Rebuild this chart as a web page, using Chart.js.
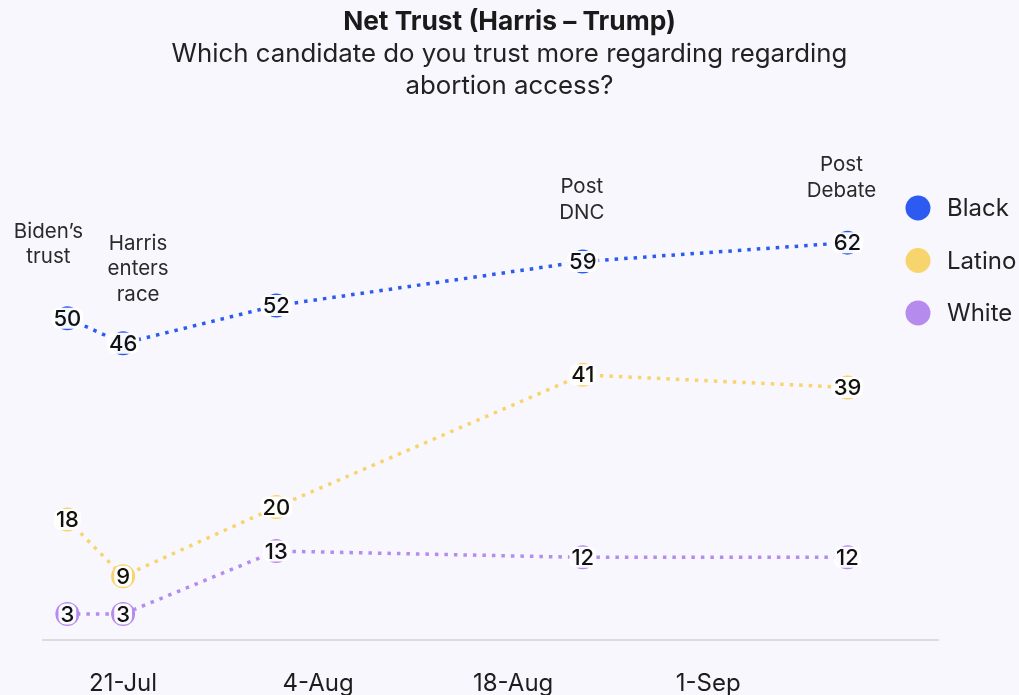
<!DOCTYPE html>
<html>
<head>
<meta charset="utf-8">
<script src="https://cdn.jsdelivr.net/npm/chart.js@4.4.1/dist/chart.umd.min.js"></script>
<style>
  html, body { margin: 0; padding: 0; background: #f8f7fe; }
  #wrap { width: 1019px; height: 695px; }
</style>
</head>
<body>
<div id="wrap"><canvas id="c"></canvas></div>
<script>
// Survey waves and net trust values (Harris minus Trump)
const waveDates = ['2024-07-17', '2024-07-21', '2024-08-01', '2024-08-23', '2024-09-11'];
const blackValues = [50, 46, 52, 59, 62];
const latinoValues = [18, 9, 20, 41, 39];
const whiteValues = [3, 3, 13, 12, 12];
const waveNotes = ['Biden’s\ntrust', 'Harris\nenters\nrace', '', 'Post\nDNC', 'Post\nDebate'];

// Axis ticks
const tickDates = ['2024-07-21', '2024-08-04', '2024-08-18', '2024-09-01'];
const tickLabels = ['21-Jul', '4-Aug', '18-Aug', '1-Sep'];

const FONT = 'Inter, "Noto Sans", sans-serif';
const DAY = 86400000;
const origin = Date.parse(tickDates[0]);
const toDay = d => (Date.parse(d) - origin) / DAY;

const series = [
  { label: 'Black', values: blackValues, color: '#2d5bf1' },
  { label: 'Latino', values: latinoValues, color: '#f8d46c' },
  { label: 'White', values: whiteValues, color: '#b58bee' }
];

const datasets = series.map(s => ({
  label: s.label,
  data: s.values.map((v, i) => ({ x: toDay(waveDates[i]), y: v })),
  borderColor: s.color,
  backgroundColor: s.color,
  borderWidth: 3.5,
  borderDash: [3.5, 6],
  pointRadius: 12,
  pointHoverRadius: 12,
  pointBorderWidth: 0,
  tension: 0
}));

// Value badges drawn on each point
const valueLabels = {
  id: 'valueLabels',
  afterDatasetsDraw(chart) {
    const ctx = chart.ctx;
    ctx.save();
    ctx.font = '500 22px ' + FONT;
    ctx.textAlign = 'center';
    ctx.textBaseline = 'middle';
    chart.data.datasets.forEach((ds, di) => {
      const meta = chart.getDatasetMeta(di);
      meta.data.forEach((pt, i) => {
        const txt = String(ds.data[i].y);
        const w = ctx.measureText(txt).width + 4;
        const h = 21;
        ctx.fillStyle = 'rgba(255,255,255,0.96)';
        ctx.beginPath();
        ctx.roundRect(pt.x - w / 2, pt.y - h / 2, w, h, 7);
        ctx.fill();
        ctx.fillStyle = '#111';
        ctx.fillText(txt, pt.x, pt.y + 1);
      });
    });
    ctx.restore();
  }
};

// Event notes above the Black series
const noteLabels = {
  id: 'noteLabels',
  afterDraw(chart, args, opts) {
    const ctx = chart.ctx;
    const meta = chart.getDatasetMeta(0);
    ctx.save();
    ctx.font = '20.5px ' + FONT;
    ctx.fillStyle = '#2a2a2a';
    ctx.textAlign = 'center';
    ctx.textBaseline = 'middle';
    waveNotes.forEach((note, i) => {
      if (!note) return;
      const pt = meta.data[i];
      const lines = note.split('\n');
      const x = pt.x + opts.dx[i];
      const bottom = pt.y - opts.rise[i];
      lines.forEach((ln, k) => {
        ctx.fillText(ln, x, bottom - (lines.length - 1 - k) * 25.5);
      });
    });
    ctx.restore();
  }
};

// Legend column on the right
const sideLegend = {
  id: 'sideLegend',
  afterDraw(chart) {
    const ctx = chart.ctx;
    ctx.save();
    ctx.font = '24px ' + FONT;
    ctx.textAlign = 'left';
    ctx.textBaseline = 'middle';
    chart.data.datasets.forEach((ds, i) => {
      const y = 208 + i * 52.5;
      ctx.fillStyle = ds.backgroundColor;
      ctx.beginPath();
      ctx.arc(918, y, 12.5, 0, Math.PI * 2);
      ctx.fill();
      ctx.fillStyle = '#222';
      ctx.fillText(ds.label, 947, y + 1);
    });
    ctx.restore();
  }
};

// Invisible side gutters so titles stay centred on the full canvas
const gutter = width => ({
  display: true,
  grid: { display: false },
  border: { display: false },
  ticks: { display: false },
  afterFit: axis => { axis.width = width; }
});

new Chart(document.getElementById('c'), {
  type: 'line',
  data: { datasets },
  plugins: [valueLabels, noteLabels, sideLegend],
  options: {
    responsive: true,
    maintainAspectRatio: false,
    animation: false,
    layout: { padding: 0 },
    scales: {
      x: {
        type: 'linear',
        min: -5.75,
        max: 58.5,
        afterBuildTicks: axis => {
          axis.ticks = tickDates.map(d => ({ value: toDay(d) }));
        },
        afterFit: axis => { axis.height = 55; },
        grid: { display: false, drawTicks: false },
        border: { display: true, color: '#dcdce0', width: 2 },
        ticks: {
          padding: 29,
          maxRotation: 0,
          color: '#1d1d1d',
          font: { family: FONT, size: 24 },
          callback: v => {
            const idx = tickDates.findIndex(d => toDay(d) === v);
            return idx >= 0 ? tickLabels[idx] : '';
          }
        }
      },
      y: Object.assign(gutter(43), { position: 'left', min: -1.13, max: 70 }),
      yRight: Object.assign(gutter(81), { position: 'right', min: 0, max: 1 })
    },
    plugins: {
      legend: { display: false },
      tooltip: { enabled: false },
      title: {
        display: true,
        text: 'Net Trust (Harris – Trump)',
        color: '#1a1a1a',
        font: { family: FONT, size: 26.3, weight: 'bold', lineHeight: 1.0 },
        padding: { top: 9, bottom: 0 }
      },
      subtitle: {
        display: true,
        text: ['Which candidate do you trust more regarding regarding', 'abortion access?'],
        color: '#222',
        font: { family: FONT, size: 25.8, lineHeight: 1.24 },
        padding: { top: 3, bottom: 90 }
      },
      noteLabels: {
        dx: [-19, 15, 0, -1, -6],
        rise: [61, 49, 0, 49, 52]
      }
    }
  }
});
</script>
</body>
</html>
